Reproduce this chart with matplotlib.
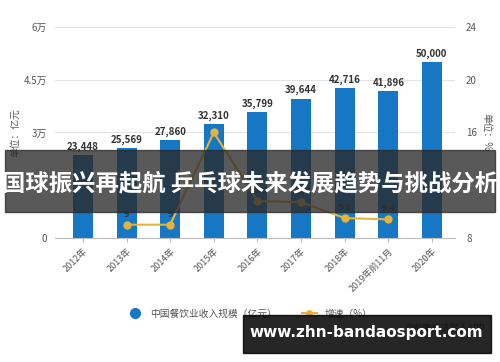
import matplotlib.pyplot as plt
from matplotlib.lines import Line2D
from matplotlib.patches import Rectangle

plt.rcParams['font.family'] = ['Noto Sans CJK SC', 'DejaVu Sans']

# 数据
years = ['2012年', '2013年', '2014年', '2015年', '2016年', '2017年', '2018年', '2019年前11月', '2020年']
revenue = [23448, 25569, 27860, 32310, 35799, 39644, 42716, 41896, 50000]
growth_years = [1, 2, 3, 4, 5, 6, 7]
growth = [9.0, 9.0, 16.0, 10.8, 10.7, 9.5, 9.4]
growth_labels = ['9', '9', '', '10.8', '10.7', '9.5', '9.4']

bar_color = '#1677c5'
line_color = '#e6b33a'
grid_color = '#e3e3e3'
text_color = '#555555'

fig = plt.figure(figsize=(5, 3.62), dpi=100)
ax = fig.add_axes([0.11, 0.343, 0.80, 0.582])
x = list(range(len(years)))
ax.bar(x, revenue, width=0.46, color=bar_color, zorder=2)
for xi, v in zip(x, revenue):
    ax.text(xi, v + 900, f'{v:,}', ha='center', va='bottom', fontsize=7,
            fontweight='bold', color='#333333')

ax.set_ylim(0, 60000)
ax.set_xlim(-0.64, 8.53)
ax.set_yticks([0, 30000, 45000, 60000])
ax.set_yticklabels(['0', '3万', '4.5万', '6万'])
ax.grid(axis='y', color=grid_color, linewidth=0.8, zorder=0)
for s in ['top', 'right', 'left']:
    ax.spines[s].set_visible(False)
ax.spines['bottom'].set_color('#bbbbbb')
ax.tick_params(axis='y', length=0, labelsize=7, colors=text_color, pad=6)
ax.tick_params(axis='x', length=3, color='#bbbbbb', labelsize=6.5, colors=text_color)
ax.set_xticks(x)
ax.set_xticklabels(years, rotation=45, ha='right', rotation_mode='anchor')
ax.set_ylabel('单位：亿元', fontsize=7, color=text_color, labelpad=2)

ax2 = ax.twinx()
ax2.set_ylim(8, 24)
ax2.set_yticks([8, 16, 20, 24])
ax2.plot(growth_years, growth, color=line_color, linewidth=1.5, marker='o',
         markersize=5, zorder=3)
for gx, gv, gl in zip(growth_years, growth, growth_labels):
    if gl:
        ax2.text(gx, gv + 0.45, gl, ha='center', va='bottom', fontsize=6.5,
                 color='#333333', fontweight='bold')
for s in ['top', 'right', 'left', 'bottom']:
    ax2.spines[s].set_visible(False)
ax2.tick_params(axis='y', length=0, labelsize=7, colors=text_color, pad=8)
ax2.set_ylabel('单位：%', fontsize=7, color=text_color, rotation=270, labelpad=10)

# 图例
handles = [
    Line2D([], [], marker='o', color='none', markerfacecolor=bar_color,
           markeredgecolor=bar_color, markersize=7),
    Line2D([], [], marker='o', color=line_color, markersize=4, linewidth=1.5),
]
fig.legend(handles, ['中国餐饮业收入规模（亿元）', '增速（%）'], loc='center',
           bbox_to_anchor=(0.5, 0.133), ncol=2, frameon=False, fontsize=7,
           handlelength=1.6, columnspacing=2.5, labelcolor=text_color)

fig.text(0.97, 0.092, '@前瞻经济学人APP', ha='right', va='center', fontsize=6.5,
         color='#888888')

# 标题横幅
fig.patches.append(Rectangle((0.01, 1 - 212 / 362), 0.98, 62 / 362,
                             transform=fig.transFigure, color='#2a2a2a',
                             alpha=0.78, zorder=10))
fig.text(0.5, 1 - 183 / 362, '国球振兴再起航 乒乓球未来发展趋势与挑战分析',
         ha='center', va='center', fontsize=16.8, fontweight='bold',
         color='white', zorder=11)

# 网址框
fig.patches.append(Rectangle((243 / 500, 1 - 353 / 362), 248 / 500, 38 / 362,
                             transform=fig.transFigure, color='black',
                             alpha=0.85, zorder=10))
fig.text(366 / 500, 1 - 333 / 362, 'www.zhn-bandaosport.com', ha='center',
         va='center', fontsize=11, fontweight='bold', color='white',
         family='DejaVu Sans', zorder=11)

fig.savefig('out.png', dpi=100)
